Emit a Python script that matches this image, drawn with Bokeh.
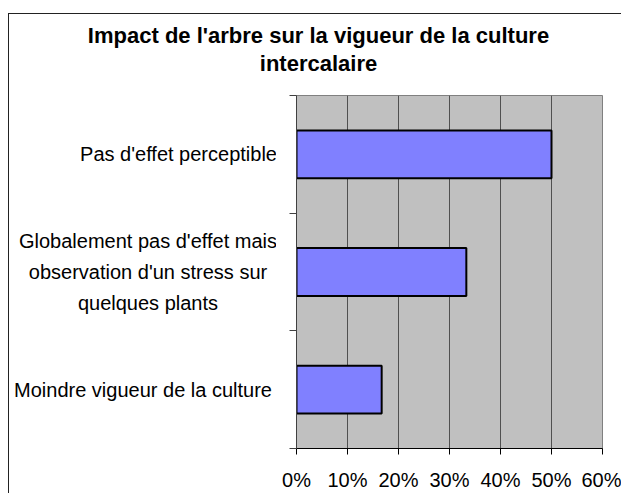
from bokeh.plotting import figure
from bokeh.layouts import column, row
from bokeh.models import FixedTicker, NumeralTickFormatter, Range1d, ColumnDataSource
from bokeh.core.properties import value
from bokeh.embed import file_html
from bokeh.resources import INLINE

# ---- data ----
title_lines = ["Impact de l'arbre sur la vigueur de la culture", "intercalaire"]
categories = [
    "Pas d'effet perceptible",
    "Globalement pas d'effet mais\nobservation d'un stress sur\nquelques plants",
    "Moindre vigueur de la culture",
]
values = [0.50, 0.333, 0.167]
x_ticks = [0.0, 0.1, 0.2, 0.3, 0.4, 0.5, 0.6]

# ---- layout / style ----
FONT = "Liberation Sans"
label_centers = [169, 138.5, 133.5]     # px, centre of each category label in the label panel
title_x = [309, 309]                    # px, centre of the title lines
title_y = [55, 27]                      # px from bottom of the title panel (baselines)

TOTAL_W = 612
TITLE_H = 76
BODY_H = 403
LABEL_W = 267
MAIN_W = TOTAL_W - LABEL_W
MB_TOP, MB_BOTTOM = 5, 44

n = len(categories)
ypos = [n - i - 0.5 for i in range(n)]
yr = Range1d(0, n)

def bare(w, h, **kw):
    f = figure(width=w, height=h, output_backend="svg", toolbar_location=None,
               x_axis_location=None, y_axis_location=None, **kw)
    f.outline_line_color = None
    f.background_fill_color = None
    f.border_fill_color = "white"
    f.grid.grid_line_color = None
    return f

# ---- title panel ----
tf = bare(TOTAL_W, TITLE_H, x_range=Range1d(0, TOTAL_W), y_range=Range1d(0, TITLE_H),
          min_border=0)
tf.text(x=title_x, y=title_y, text=title_lines, text_align="center",
        text_baseline="alphabetic", text_font=value(FONT), text_font_size="22px",
        text_font_style="bold", text_color="black")

# ---- category label panel ----
lf = bare(LABEL_W, BODY_H, x_range=Range1d(0, LABEL_W), y_range=yr,
          min_border_left=0, min_border_right=0,
          min_border_top=MB_TOP, min_border_bottom=MB_BOTTOM)
lf.text(x=label_centers, y=ypos, text=categories, text_align="center",
        text_baseline="middle", text_font=value(FONT), text_font_size="20px",
        text_line_height=1.4, text_color="black")

# ---- main chart ----
src = ColumnDataSource(dict(y=ypos, right=values, cat=categories))
p = figure(
    width=MAIN_W, height=BODY_H,
    x_range=Range1d(0, 0.6), y_range=yr,
    output_backend="svg", toolbar_location=None,
    min_border_left=20, min_border_right=19,
    min_border_top=MB_TOP, min_border_bottom=MB_BOTTOM,
    background_fill_color="#C0C0C0", border_fill_color="white",
)
p.outline_line_color = "#808080"
p.outline_line_width = 1

p.hbar(y="y", right="right", left=0, height=0.407, source=src,
       fill_color="#8080FF", line_color="black", line_width=2)

xa = p.xaxis[0]
xa.ticker = FixedTicker(ticks=x_ticks)
xa.formatter = NumeralTickFormatter(format="0%")
xa.axis_line_color = "black"
xa.major_tick_line_color = "black"
xa.major_tick_out = 6
xa.major_tick_in = 0
xa.minor_tick_line_color = None
xa.major_label_text_font = FONT
xa.major_label_text_font_size = "20px"
xa.major_label_text_color = "black"
xa.major_label_standoff = 14

ya = p.yaxis[0]
ya.ticker = FixedTicker(ticks=list(range(n + 1)))
ya.major_label_overrides = {i: "" for i in range(n + 1)}
ya.major_label_standoff = 0
ya.axis_line_color = "#404040"
ya.major_tick_line_color = "#404040"
ya.major_tick_out = 7
ya.major_tick_in = 0
ya.minor_tick_line_color = None

p.xgrid.ticker = FixedTicker(ticks=x_ticks)
p.xgrid.grid_line_color = "#505050"
p.ygrid.grid_line_color = None

layout = column(
    tf, row(lf, p, spacing=0), spacing=0,
    styles={"margin-left": "8px", "margin-top": "13px",
            "border-left": "1px solid #222", "border-top": "1px solid #222"},
)

open("out.html", "w").write(file_html(layout, INLINE))
